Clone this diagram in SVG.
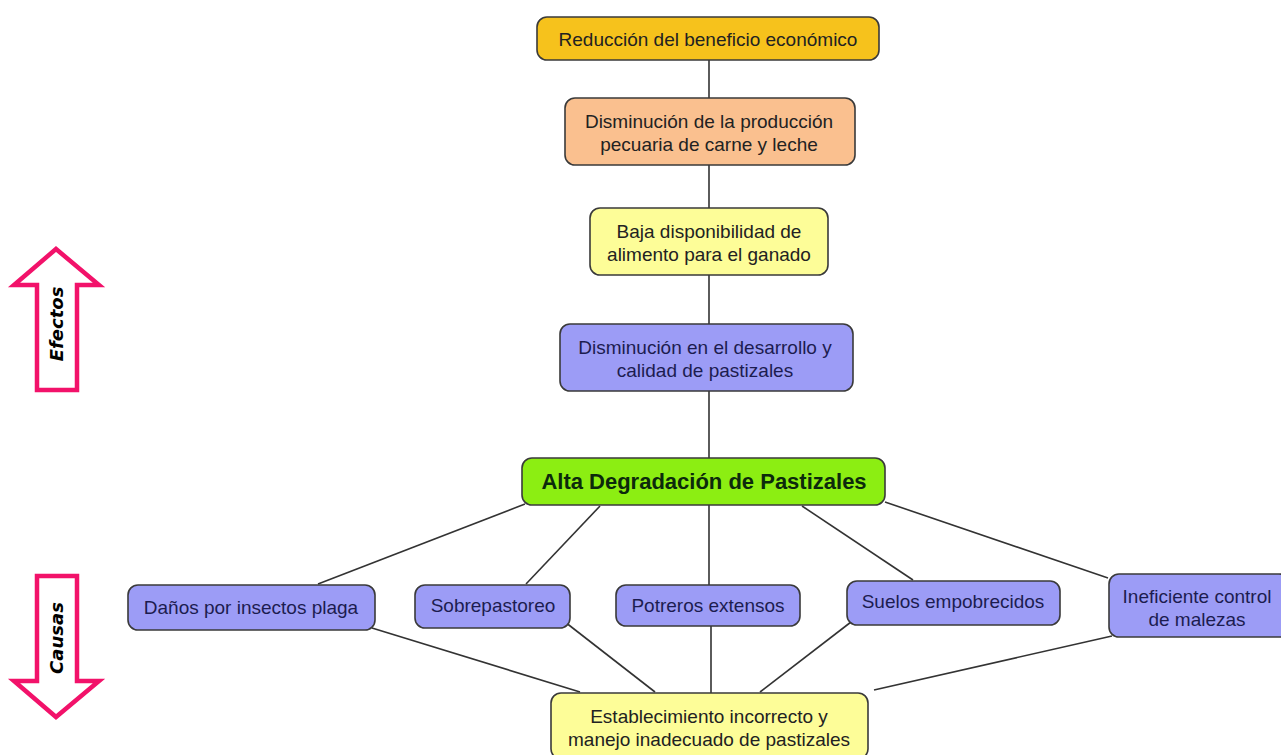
<svg xmlns="http://www.w3.org/2000/svg" width="1281" height="755" viewBox="0 0 1281 755">
<style>
.n{stroke:#3a3a3a;stroke-width:1.6}
.t{font-family:"Liberation Sans",Arial,sans-serif;font-size:19px;fill:#222;text-anchor:middle}
.tb{fill:#1c1c50}
.c line{stroke:#333;stroke-width:1.6}
.arr{fill:#fff;stroke:#F2126A;stroke-width:4.5;stroke-linejoin:miter}
.lab{font-family:"DejaVu Sans",sans-serif;font-weight:bold;font-style:italic;font-size:18px;fill:#000;text-anchor:middle}
</style>
<rect width="1281" height="755" fill="#fff"/>
<g class="c">
<line x1="709" y1="60" x2="709" y2="98"/>
<line x1="709" y1="165" x2="709" y2="208"/>
<line x1="709" y1="275" x2="709" y2="324"/>
<line x1="709" y1="391" x2="709" y2="458"/>
<line x1="525" y1="504" x2="318" y2="584"/>
<line x1="600" y1="506" x2="526" y2="584"/>
<line x1="709" y1="505" x2="709" y2="585"/>
<line x1="802" y1="506" x2="913" y2="580"/>
<line x1="885" y1="502" x2="1108" y2="578"/>
<line x1="372" y1="628" x2="580" y2="692"/>
<line x1="565" y1="622" x2="655" y2="692"/>
<line x1="711" y1="626" x2="711" y2="693"/>
<line x1="851" y1="622" x2="760" y2="692"/>
<line x1="1112" y1="636" x2="874" y2="690"/>
</g>
<g id="arrow-efectos">
<polygon class="arr" points="56,249 14,285 37,285 37,390 77,390 77,285 99,285"/>
<text class="lab" transform="translate(63,324) rotate(-90)">Efectos</text>
</g>
<g id="arrow-causas">
<polygon class="arr" points="37,576 77,576 77,681 99,681 56,717 14,681 37,681"/>
<text class="lab" transform="translate(63,638) rotate(-90)">Causas</text>
</g>
<g id="n1"><rect class="n" x="537" y="17" width="342" height="43" rx="10" fill="#F6C21C"/><text class="t" x="708" y="46">Reducción del beneficio económico</text></g>
<g id="n2"><rect class="n" x="565" y="98" width="290" height="67" rx="10" fill="#FAC08F"/><text class="t" x="709" y="128">Disminución de la producción</text><text class="t" x="709" y="151">pecuaria de carne y leche</text></g>
<g id="n3"><rect class="n" x="590" y="208" width="238" height="67" rx="10" fill="#FDFD98"/><text class="t" x="709" y="238">Baja disponibilidad de</text><text class="t" x="709" y="261">alimento para el ganado</text></g>
<g id="n4"><rect class="n" x="560" y="324" width="293" height="67" rx="10" fill="#9C9CF6"/><text class="t tb" x="705" y="354">Disminución en el desarrollo y</text><text class="t tb" x="705" y="377">calidad de pastizales</text></g>
<g id="n5"><rect class="n" x="522" y="458" width="363" height="47" rx="10" fill="#8CEE12"/><text class="t" x="704" y="489" style="font-weight:bold;font-size:22px;fill:#0c2a0c">Alta Degradación de Pastizales</text></g>
<g id="n6"><rect class="n" x="128" y="585" width="247" height="45" rx="10" fill="#9C9CF6"/><text class="t tb" x="251" y="614">Daños por insectos plaga</text></g>
<g id="n7"><rect class="n" x="415" y="585" width="155" height="43" rx="10" fill="#9C9CF6"/><text class="t tb" x="493" y="612">Sobrepastoreo</text></g>
<g id="n8"><rect class="n" x="616" y="585" width="184" height="41" rx="10" fill="#9C9CF6"/><text class="t tb" x="708" y="612">Potreros extensos</text></g>
<g id="n9"><rect class="n" x="847" y="581" width="213" height="44" rx="10" fill="#9C9CF6"/><text class="t tb" x="953" y="608">Suelos empobrecidos</text></g>
<g id="n10"><rect class="n" x="1109" y="574" width="180" height="63" rx="10" fill="#9C9CF6"/><text class="t tb" x="1197" y="603">Ineficiente control</text><text class="t tb" x="1197" y="626">de malezas</text></g>
<g id="n11"><rect class="n" x="551" y="693" width="317" height="66" rx="10" fill="#FDFD98"/><text class="t" x="709" y="723">Establecimiento incorrecto y</text><text class="t" x="709" y="746">manejo inadecuado de pastizales</text></g>
</svg>
